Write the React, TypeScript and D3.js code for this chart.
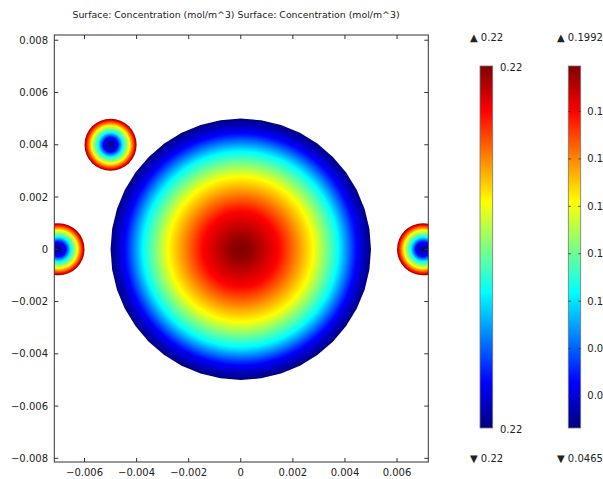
import * as d3 from 'd3';

// plot extents (m)
const xDomain = [-0.00716, 0.0072];
const yDomain = [-0.00814, 0.0082];
const xTicks = [-0.006, -0.004, -0.002, 0, 0.002, 0.004, 0.006];
const yTicks = [-0.008, -0.006, -0.004, -0.002, 0, 0.002, 0.004, 0.006, 0.008];

// domains: centre x, centre y, radius, which radial profile
const domains = [
  { id: 'big', cx: 0, cy: 0, r: 0.005, profile: 'source', polygon: 40 },
  { id: 's1', cx: -0.005, cy: 0.004, r: 0.001, profile: 'sink', polygon: 0 },
  { id: 's2', cx: -0.007, cy: 0, r: 0.001, profile: 'sink', polygon: 0 },
  { id: 's3', cx: 0.007, cy: 0, r: 0.001, profile: 'sink', polygon: 0 },
];

// colour fraction read along the radius (r / R -> fraction of the colour range)
const sourceProfile = [
  { r: 0, f: 1 },
  { r: 0.08, f: 0.98 },
  { r: 0.29, f: 0.875 },
  { r: 0.557, f: 0.625 },
  { r: 0.75, f: 0.375 },
  { r: 0.89, f: 0.125 },
  { r: 1, f: 0 },
];
const sinkProfile = [
  { r: 0, f: 0 },
  { r: 0.28, f: 0.125 },
  { r: 0.47, f: 0.375 },
  { r: 0.73, f: 0.625 },
  { r: 0.93, f: 0.875 },
  { r: 1, f: 1 },
];

// colour legends
const legend1 = { max: '0.22', min: '0.22', topLabel: '0.22', bottomLabel: '0.22' };
const legend2 = { max: 0.1992, min: 0.0465 };
const legend2Ticks = [0.06, 0.08, 0.1, 0.12, 0.14, 0.16, 0.18];

const jetStops = [0, 0.125, 0.375, 0.625, 0.875, 1];
const jetColors = ['#00007f', '#0000ff', '#00ffff', '#ffff00', '#ff0000', '#7f0000'];
const jet = d3.scaleLinear<string>().domain(jetStops).range(jetColors).clamp(true);

const font = '"DejaVu Sans", Verdana, sans-serif';

const fmt = (v: number) => {
  if (Math.abs(v) < 1e-12) return '0';
  const s = Math.abs(v).toFixed(3);
  return v < 0 ? '\u2212' + s : s;
};

export default function App() {
  const width = 603;
  const height = 479;
  const plot = { left: 54.3, right: 428.3, top: 35, bottom: 462 };

  const x = d3.scaleLinear().domain(xDomain).range([plot.left, plot.right]);
  const y = d3.scaleLinear().domain(yDomain).range([plot.bottom, plot.top]);
  const pxPerUnit = x(1) - x(0);

  const bar1 = { x: 480, w: 12.7, top: 66, bottom: 428 };
  const bar2 = { x: 568.3, w: 12.4, top: 66, bottom: 428 };
  const c2 = d3.scaleLinear().domain([legend2.min, legend2.max]).range([bar2.bottom, bar2.top]);

  const polyPath = (cx: number, cy: number, r: number, n: number) => {
    const pts: [number, number][] = d3.range(n).map((i) => {
      const a = (i / n) * Math.PI * 2;
      return [x(cx + r * Math.cos(a)), y(cy + r * Math.sin(a))];
    });
    return d3.line()(pts) + 'Z';
  };

  const tick = 4;

  return (
    <svg
      width={width}
      height={height}
      style={{ position: 'absolute', left: 0, top: 0, background: '#fff' }}
      fontFamily={font}
    >
      <defs>
        <clipPath id="plotClip">
          <rect x={plot.left} y={plot.top} width={plot.right - plot.left} height={plot.bottom - plot.top} />
        </clipPath>
        {domains.map((d) => {
          const prof = d.profile === 'source' ? sourceProfile : sinkProfile;
          return (
            <radialGradient
              key={d.id}
              id={'grad-' + d.id}
              gradientUnits="userSpaceOnUse"
              cx={x(d.cx)}
              cy={y(d.cy)}
              r={d.r * pxPerUnit}
            >
              {prof.map((p, i) => (
                <stop key={i} offset={p.r} stopColor={jet(p.f)} />
              ))}
            </radialGradient>
          );
        })}
        <linearGradient id="barGrad" x1="0" y1="1" x2="0" y2="0">
          {jetStops.map((s, i) => (
            <stop key={i} offset={s} stopColor={jetColors[i]} />
          ))}
        </linearGradient>
      </defs>

      <text x={236} y={17.5} textAnchor="middle" fontSize={9.4} fill="#222">
        Surface: Concentration (mol/m^3) Surface: Concentration (mol/m^3)
      </text>

      <g clipPath="url(#plotClip)">
        {domains.map((d) =>
          d.polygon > 0 ? (
            <path key={d.id} d={polyPath(d.cx, d.cy, d.r, d.polygon)} fill={`url(#grad-${d.id})`} />
          ) : (
            <circle key={d.id} cx={x(d.cx)} cy={y(d.cy)} r={d.r * pxPerUnit} fill={`url(#grad-${d.id})`} />
          ),
        )}
      </g>

      {/* axes frame */}
      <rect
        x={plot.left}
        y={plot.top}
        width={plot.right - plot.left}
        height={plot.bottom - plot.top}
        fill="none"
        stroke="#333"
        strokeWidth={1}
      />
      {xTicks.map((t) => (
        <g key={'x' + t}>
          <line x1={x(t)} x2={x(t)} y1={plot.bottom} y2={plot.bottom - tick} stroke="#333" />
          <line x1={x(t)} x2={x(t)} y1={plot.top} y2={plot.top + tick} stroke="#333" />
          <text x={x(t)} y={476} textAnchor="middle" fontSize={10} fill="#222">
            {fmt(t)}
          </text>
        </g>
      ))}
      {yTicks.map((t) => (
        <g key={'y' + t}>
          <line x1={plot.left} x2={plot.left + tick} y1={y(t)} y2={y(t)} stroke="#333" />
          <line x1={plot.right} x2={plot.right - tick} y1={y(t)} y2={y(t)} stroke="#333" />
          <text x={48} y={y(t) + 3.5} textAnchor="end" fontSize={10} fill="#222">
            {fmt(t)}
          </text>
        </g>
      ))}

      {/* legend 1 */}
      <rect x={bar1.x} y={bar1.top} width={bar1.w} height={bar1.bottom - bar1.top} fill="url(#barGrad)" stroke="#777" strokeWidth={0.8} />
      <text x={500} y={71} fontSize={10} fill="#222">{legend1.topLabel}</text>
      <text x={500} y={433} fontSize={10} fill="#222">{legend1.bottomLabel}</text>
      <text x={470} y={40.5} fontSize={10} fill="#222">{'\u25B2 ' + legend1.max}</text>
      <text x={470} y={462} fontSize={10} fill="#222">{'\u25BC ' + legend1.min}</text>

      {/* legend 2 */}
      <rect x={bar2.x} y={bar2.top} width={bar2.w} height={bar2.bottom - bar2.top} fill="url(#barGrad)" stroke="#777" strokeWidth={0.8} />
      {legend2Ticks.map((t) => (
        <g key={'c' + t}>
          <line x1={bar2.x} x2={bar2.x + 2.5} y1={c2(t)} y2={c2(t)} stroke="#333" strokeWidth={0.8} />
          <line x1={bar2.x + bar2.w} x2={bar2.x + bar2.w - 2.5} y1={c2(t)} y2={c2(t)} stroke="#333" strokeWidth={0.8} />
          <text x={587.3} y={c2(t) + 3.5} fontSize={10} fill="#222">
            {t === 0.1 ? '0.1' : t.toFixed(2)}
          </text>
        </g>
      ))}
      <text x={557} y={40.5} fontSize={10} fill="#222">{'\u25B2 ' + legend2.max}</text>
      <text x={557} y={462} fontSize={10} fill="#222">{'\u25BC ' + legend2.min}</text>
    </svg>
  );
}
